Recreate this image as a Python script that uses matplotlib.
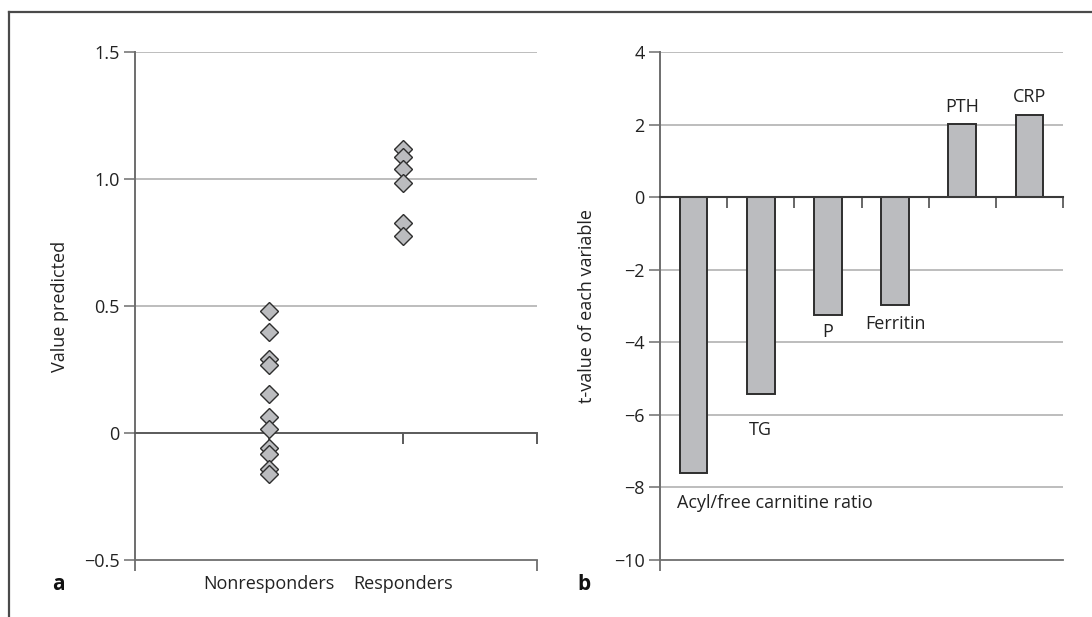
import matplotlib
matplotlib.use("Agg")
import matplotlib.pyplot as plt
import matplotlib.transforms as mtransforms
from matplotlib.lines import Line2D

plt.rcParams['font.family'] = ['Open Sans', 'DejaVu Sans']

# ---- data ----
groups = ["Nonresponders", "Responders"]
nonresponders = [0.480, 0.396, 0.293, 0.266, 0.155, 0.062, 0.017, -0.061, -0.082, -0.141, -0.163]
responders = [1.117, 1.085, 1.039, 0.986, 0.826, 0.775]
a_yticks = [-0.5, 0, 0.5, 1.0, 1.5]
a_yticklabels = ["\u22120.5", "0", "0.5", "1.0", "1.5"]

variables = ["Acyl/free carnitine ratio", "TG", "P", "Ferritin", "PTH", "CRP"]
t_values = [-7.60, -5.42, -3.26, -2.96, 2.01, 2.25]
b_yticks = [-10, -8, -6, -4, -2, 0, 2, 4]
b_yticklabels = ["\u221210", "\u22128", "\u22126", "\u22124", "\u22122", "0", "2", "4"]

W, H = 1092, 617
fig = plt.figure(figsize=(W / 100, H / 100), dpi=100)

FS = 13
GRID = "#ababab"
AXC = "#5a5a5a"
FILL = "#bbbcbf"
EDGE = "#2e2e2e"
TXT = "#222222"

def px_axes(l, r, t, b):
    return fig.add_axes([l / W, 1 - b / H, (r - l) / W, (b - t) / H])

# ---------- panel a ----------
axa = px_axes(135, 537, 52, 560)
axa.set_xlim(0, 3)
axa.set_ylim(-0.5, 1.5)
for y in [0.5, 1.0, 1.5]:
    axa.axhline(y, color=GRID, lw=1.1, zorder=0)
for s in ["top", "right"]:
    axa.spines[s].set_visible(False)
axa.spines["bottom"].set_position(("data", 0))
axa.spines["bottom"].set_color(AXC)
axa.spines["bottom"].set_linewidth(1.4)
axa.spines["left"].set_color("#6e6e6e")
axa.spines["left"].set_linewidth(1.4)
axa.set_xticks([1, 2, 3])
axa.set_xticklabels(["", "", ""])
axa.tick_params(axis="x", direction="out", length=8, width=1.4, color=AXC)
axa.set_yticks(a_yticks)
axa.set_yticklabels(a_yticklabels)
axa.tick_params(axis="y", direction="out", length=8, width=1.1, color="#6e6e6e",
                labelsize=FS, labelcolor=TXT, pad=3)
seca = axa.secondary_xaxis("bottom")
seca.set_xticks([0, 3])
seca.set_xticklabels(["", ""])
seca.spines["bottom"].set_color("#6e6e6e")
seca.spines["bottom"].set_linewidth(1.3)
seca.tick_params(axis="x", direction="out", length=8, width=1.3, color="#6e6e6e")

xs_n = [1] * len(nonresponders)
xs_r = [2] * len(responders)
axa.plot(xs_n, nonresponders, linestyle="none", marker="D", ms=9.5,
         mfc=FILL, mec=EDGE, mew=1.0, zorder=3, clip_on=False)
axa.plot(xs_r, responders, linestyle="none", marker="D", ms=9.5,
         mfc=FILL, mec=EDGE, mew=1.0, zorder=3, clip_on=False)
trans_a = mtransforms.blended_transform_factory(axa.transData, axa.transAxes)
for i, g in enumerate(groups):
    axa.annotate(g, xy=(i + 1, 0), xycoords=trans_a, xytext=(0, -17),
                 textcoords="offset points", ha="center", va="center",
                 fontsize=FS, color=TXT)
axa.set_ylabel("Value predicted", fontsize=FS, color=TXT, labelpad=11)

# ---------- panel b ----------
axb = px_axes(660, 1063, 52, 560)
pos = list(range(len(variables)))
axb.set_xlim(-0.5, len(variables) - 0.5)
axb.set_ylim(-10, 4)
for y in [-8, -6, -4, -2, 2, 4]:
    axb.axhline(y, color=GRID, lw=1.1, zorder=0)
axb.bar(pos, t_values, width=0.41, color=FILL, edgecolor=EDGE, linewidth=1.4, zorder=2)
for s in ["top", "right"]:
    axb.spines[s].set_visible(False)
axb.spines["bottom"].set_position(("data", 0))
axb.spines["bottom"].set_color("#3a3a3a")
axb.spines["bottom"].set_linewidth(1.5)
axb.spines["bottom"].set_zorder(3)
axb.spines["left"].set_color("#6e6e6e")
axb.spines["left"].set_linewidth(1.4)
axb.set_xticks([p + 0.5 for p in pos])
axb.set_xticklabels([""] * len(pos))
axb.tick_params(axis="x", direction="out", length=8, width=1.3, color=AXC)
axb.set_yticks(b_yticks)
axb.set_yticklabels(b_yticklabels)
axb.tick_params(axis="y", direction="out", length=8, width=1.1, color="#6e6e6e",
                labelsize=FS, labelcolor=TXT, pad=3)
secb = axb.secondary_xaxis("bottom")
secb.set_xticks([-0.5])
secb.set_xticklabels([""])
secb.spines["bottom"].set_color("#6e6e6e")
secb.spines["bottom"].set_linewidth(1.3)
secb.tick_params(axis="x", direction="out", length=8, width=1.3, color="#6e6e6e")
axb.set_ylabel("t-value of each variable", fontsize=FS, color=TXT, labelpad=13)

# bar labels
label_pos = [(-0.24, -8.44, "left"), (1.0, -6.43, "center"), (2.0, -3.71, "center"),
             (3.0, -3.49, "center"), (4.0, 2.49, "center"), (5.0, 2.75, "center")]
for name, (x, y, ha) in zip(variables, label_pos):
    axb.text(x, y, name, ha=ha, va="center", fontsize=FS, color=TXT)

# panel letters
fig.text(58 / W, 1 - 585 / H, "a", fontsize=15, fontweight="bold", ha="center", va="center", color="#111111")
fig.text(584 / W, 1 - 585 / H, "b", fontsize=15, fontweight="bold", ha="center", va="center", color="#111111")

# frame lines (top and left)
fig.add_artist(Line2D([8.5 / W, 1.0], [1 - 12 / H, 1 - 12 / H], transform=fig.transFigure,
                      color="#4a4a4a", lw=1.6))
fig.add_artist(Line2D([8.5 / W, 8.5 / W], [0.0, 1 - 12 / H], transform=fig.transFigure,
                      color="#4a4a4a", lw=1.6))

fig.savefig("out.png", dpi=100, facecolor="white")
